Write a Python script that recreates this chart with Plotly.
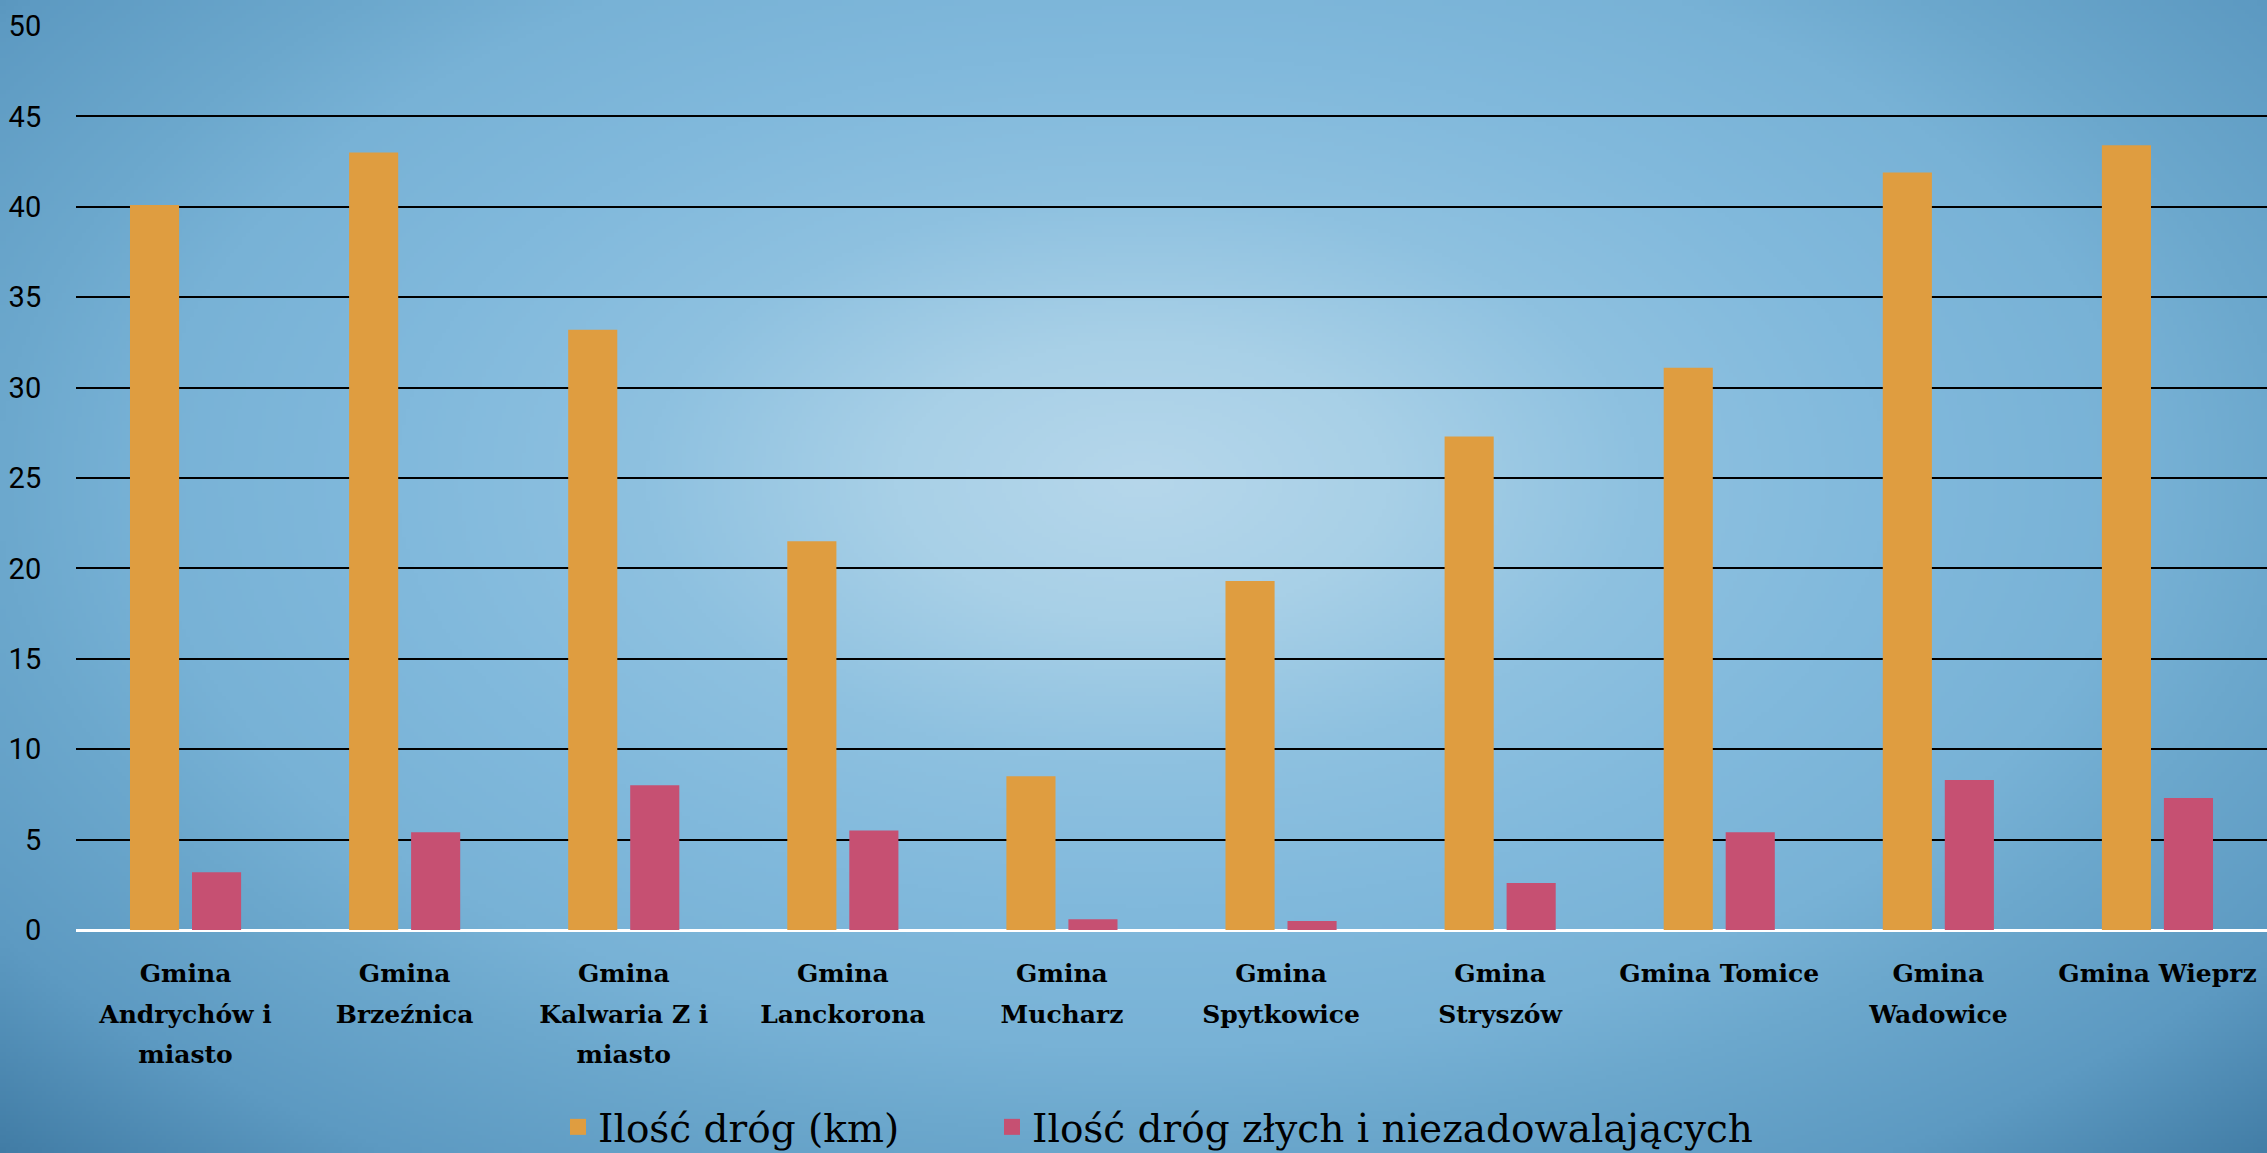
import base64
import struct
import zlib

import numpy as np
import plotly.graph_objects as go

# ---------------- data ----------------
categories = [
    "Gmina Andrychów i miasto", "Gmina Brzeźnica", "Gmina Kalwaria Z i miasto",
    "Gmina Lanckorona", "Gmina Mucharz", "Gmina Spytkowice", "Gmina Stryszów",
    "Gmina Tomice", "Gmina Wadowice", "Gmina Wieprz",
]
tick_lines = [
    ["Gmina", "Andrychów i", "miasto"], ["Gmina", "Brzeźnica"], ["Gmina", "Kalwaria Z i", "miasto"],
    ["Gmina", "Lanckorona"], ["Gmina", "Mucharz"], ["Gmina", "Spytkowice"], ["Gmina", "Stryszów"],
    ["Gmina Tomice"], ["Gmina", "Wadowice"], ["Gmina Wieprz"],
]
roads_km = [40.1, 43.0, 33.2, 21.5, 8.5, 19.3, 27.3, 31.1, 41.9, 43.4]
roads_bad = [3.2, 5.4, 8.0, 5.5, 0.6, 0.5, 2.6, 5.4, 8.3, 7.3]
series_names = ["Ilość dróg (km)", "Ilość dróg złych i niezadowalających"]
series_colors = ["#DF9D40", "#C65072"]
y_ticks = [0, 5, 10, 15, 20, 25, 30, 35, 40, 45, 50]

# ---------------- layout constants ----------------
W, H = 2267, 1153
ML, MR, MT, MB = 76, 0, 26, 223
PW, PH = W - ML - MR, H - MT - MB

# glyphs at 25px, line pitch of a 31px font (≈40px between lines)
tick_labels = [
    "<br>".join("<span style='font-size:25px'>%s</span>" % ln for ln in lines)
    for lines in tick_lines
]


# ---------------- radial gradient background (PNG data URI) ----------------
def gradient_png(w, h):
    xs = np.linspace(0, W, w)
    ys = np.linspace(0, H, h)
    X, Y = np.meshgrid(xs, ys)
    cx, cy = 1142.0, 480.0
    d = np.sqrt(((X - cx) / (W * 0.55)) ** 2 + ((Y - cy) / (H * 0.62)) ** 2)
    stops_d = [0.0, 0.2, 0.4, 0.6, 0.8, 0.92, 1.12, 1.32, 1.5]
    stops_c = [
        (182, 215, 235), (168, 208, 231), (142, 193, 224), (129, 185, 220),
        (120, 178, 214), (108, 168, 205), (93, 154, 194), (65, 124, 165),
        (55, 112, 152),
    ]
    img = np.zeros((h, w, 3), dtype=np.uint8)
    for k in range(3):
        img[..., k] = np.interp(d, stops_d, [c[k] for c in stops_c]).astype(np.uint8)
    raw = b"".join(b"\x00" + img[r].tobytes() for r in range(h))

    def chunk(tag, data):
        c = struct.pack(">I", len(data)) + tag + data
        return c + struct.pack(">I", zlib.crc32(tag + data) & 0xFFFFFFFF)

    png = b"\x89PNG\r\n\x1a\n"
    png += chunk(b"IHDR", struct.pack(">IIBBBBB", w, h, 8, 2, 0, 0, 0))
    png += chunk(b"IDAT", zlib.compress(raw, 9))
    png += chunk(b"IEND", b"")
    return "data:image/png;base64," + base64.b64encode(png).decode()


bg = gradient_png(567, 289)

fig = go.Figure()
fig.add_trace(go.Bar(x=categories, y=roads_km, name=series_names[0], showlegend=False,
                     marker=dict(color=series_colors[0], line=dict(width=0))))
fig.add_trace(go.Bar(x=categories, y=roads_bad, name=series_names[1], showlegend=False,
                     marker=dict(color=series_colors[1], line=dict(width=0))))
# legend entries with larger square swatches
for i, leg in enumerate(["legend", "legend2"]):
    fig.add_trace(go.Scatter(
        x=[None], y=[None], mode="markers", name=series_names[i], legend=leg,
        marker=dict(symbol="square", size=28, color=series_colors[i], line=dict(width=0)),
        hoverinfo="skip",
    ))

legend_font = dict(family="DejaVu Serif", size=39, color="#000000")
legend_y = -(1127 - (H - MB)) / PH

fig.update_layout(
    width=W, height=H,
    margin=dict(l=ML, r=MR, t=MT, b=MB, pad=0, autoexpand=False),
    paper_bgcolor="#84bbdd",
    plot_bgcolor="rgba(0,0,0,0)",
    barmode="group",
    bargap=0.434,
    bargroupgap=0.208,
    showlegend=True,
    legend=dict(
        orientation="h", x=(558 - ML) / PW, xanchor="left",
        y=legend_y, yanchor="middle", font=legend_font,
        bgcolor="rgba(0,0,0,0)", itemsizing="trace",
    ),
    legend2=dict(
        orientation="h", x=(992 - ML) / PW, xanchor="left",
        y=legend_y, yanchor="middle", font=legend_font,
        bgcolor="rgba(0,0,0,0)", itemsizing="trace",
    ),
    images=[dict(
        source=bg, xref="paper", yref="paper",
        x=-ML / PW, y=1 + MT / PH, sizex=W / PW, sizey=H / PH,
        xanchor="left", yanchor="top", sizing="stretch", layer="below",
    )],
)

fig.update_xaxes(
    type="category", categoryorder="array", categoryarray=categories,
    tickmode="array", tickvals=categories, ticktext=tick_labels,
    tickfont=dict(family="DejaVu Serif", size=31, color="#000000", weight="bold"),
    ticks="outside", ticklen=14, tickcolor="rgba(0,0,0,0)",
    showgrid=False, showline=False, zeroline=False,
    tickangle=0, automargin=False,
)
fig.update_yaxes(
    range=[0, 50], tickmode="array", tickvals=y_ticks,
    tickfont=dict(family="Roboto", size=29, color="#000000"),
    ticks="outside", ticklen=28, tickcolor="rgba(0,0,0,0)",
    showgrid=True, gridcolor="#000000", gridwidth=2,
    zeroline=True, zerolinecolor="#FFFFFF", zerolinewidth=3,
    showline=False, automargin=False,
)

fig.write_html(
    "out.html",
    config={"displayModeBar": False},
    post_script="document.body.style.margin='0';document.body.style.overflow='hidden';",
)
